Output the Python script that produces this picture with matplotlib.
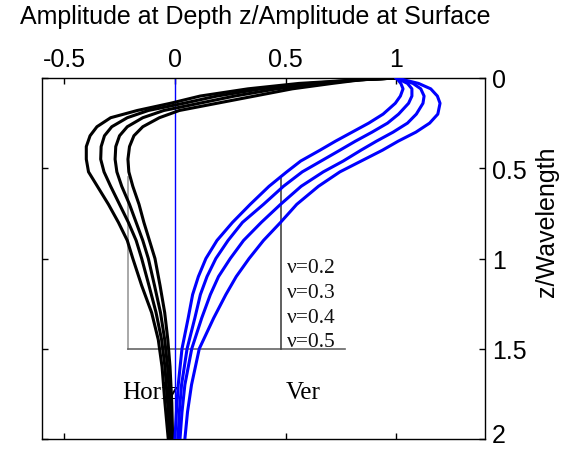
import matplotlib
matplotlib.use('Agg')
import matplotlib.pyplot as plt
from matplotlib.transforms import ScaledTranslation

plt.rcParams['font.family'] = 'Liberation Sans'
plt.rcParams['axes.unicode_minus'] = False

# depth grids (z / wavelength)
depth_h = [0, 0.01, 0.03, 0.06, 0.1, 0.14, 0.18, 0.22, 0.27, 0.32, 0.38, 0.45,
           0.52, 0.6, 0.7, 0.8, 0.9, 1.0, 1.15, 1.3, 1.45, 1.6, 1.8, 2.0]
depth_v = [0, 0.03, 0.06, 0.1, 0.14, 0.2, 0.25, 0.3, 0.35, 0.4, 0.46, 0.52,
           0.6, 0.7, 0.8, 0.9, 1.0, 1.1, 1.2, 1.33, 1.5, 1.7, 1.85, 2.0]

# horizontal amplitude ratio, outer curve first
horiz_1 = [1.0, 0.83, 0.56, 0.33, 0.114, -0.02, -0.17, -0.29, -0.352, -0.383, -0.40, -0.40,
           -0.39, -0.35, -0.30, -0.255, -0.215, -0.19, -0.15, -0.105, -0.075, -0.058, -0.045, -0.03]
horiz_2 = [1.0, 0.83, 0.61, 0.39, 0.19, 0.04, -0.12, -0.215, -0.285, -0.318, -0.333, -0.335,
           -0.32, -0.29, -0.25, -0.21, -0.175, -0.15, -0.117, -0.085, -0.06, -0.045, -0.033, -0.022]
horiz_3 = [1.0, 0.835, 0.66, 0.46, 0.27, 0.11, -0.05, -0.145, -0.215, -0.25, -0.267, -0.27,
           -0.262, -0.24, -0.205, -0.175, -0.145, -0.12, -0.092, -0.065, -0.046, -0.033, -0.023, -0.016]
horiz_4 = [1.0, 0.84, 0.71, 0.53, 0.36, 0.19, 0.02, -0.07, -0.145, -0.185, -0.205, -0.212,
           -0.208, -0.19, -0.162, -0.14, -0.115, -0.09, -0.067, -0.046, -0.032, -0.022, -0.014, -0.01]

# vertical amplitude ratio, inner curve first
vert_1 = [1.0, 1.02, 1.03, 1.018, 0.995, 0.94, 0.875, 0.80, 0.725, 0.655, 0.568, 0.505,
          0.425, 0.34, 0.26, 0.19, 0.14, 0.106, 0.08, 0.06, 0.032, 0.015, 0.007, 0.0]
vert_2 = [1.0, 1.05, 1.07, 1.07, 1.055, 1.01, 0.96, 0.89, 0.815, 0.745, 0.66, 0.575,
          0.49, 0.40, 0.305, 0.24, 0.185, 0.145, 0.115, 0.09, 0.055, 0.03, 0.02, 0.014]
vert_3 = [1.0, 1.075, 1.11, 1.125, 1.12, 1.09, 1.05, 0.985, 0.91, 0.84, 0.76, 0.67,
          0.57, 0.477, 0.39, 0.31, 0.25, 0.197, 0.16, 0.121, 0.076, 0.045, 0.032, 0.023]
vert_4 = [1.0, 1.10, 1.155, 1.185, 1.197, 1.187, 1.15, 1.088, 1.008, 0.937, 0.841, 0.745,
          0.648, 0.55, 0.477, 0.40, 0.335, 0.277, 0.23, 0.175, 0.11, 0.075, 0.057, 0.045]

nu_labels = ['ν=0.2', 'ν=0.3', 'ν=0.4', 'ν=0.5']
nu_y = [1.077, 1.215, 1.354, 1.483]

x_ticks = [-0.5, 0, 0.5, 1]
x_ticklabels = ['-0.5', '0', '0.5', '1']
y_ticks = [0, 0.5, 1, 1.5, 2]
y_ticklabels = ['0', '0.5', '1', '1.5', '2']

fig = plt.figure(figsize=(5.61, 4.52), dpi=100)
ax = fig.add_axes([42/561, 1 - 440/452, 443/561, 361/452])

# bracket lines behind the curves
ax.plot([-0.21, -0.21], [0.55, 1.5], color='#999999', lw=1.2, zorder=1)
ax.plot([-0.21, 0.77], [1.5, 1.5], color='#666666', lw=1.2, zorder=1)
ax.plot([0.48, 0.48], [0.55, 1.5], color='#444444', lw=1.2, zorder=1)

ax.text(-0.236, 1.775, 'Horiz', family='Liberation Serif', fontsize=18, va='baseline', zorder=1)
ax.text(0.5, 1.775, 'Ver', family='Liberation Serif', fontsize=18, va='baseline', zorder=1)
for lab, yy in zip(nu_labels, nu_y):
    ax.text(0.505, yy, lab, family='Liberation Serif', fontsize=15.5, color='#111111',
            va='baseline', zorder=1)

ax.axvline(0, color='blue', lw=1.0, zorder=2)

for xs in [horiz_1, horiz_2, horiz_3, horiz_4]:
    ax.plot(xs, depth_h, color='black', lw=2.2, zorder=3)
for xs in [vert_1, vert_2, vert_3, vert_4]:
    ax.plot(xs, depth_v, color='blue', lw=2.2, zorder=3)

ax.set_xlim(-0.6, 1.4)
ax.set_ylim(2, 0)
ax.set_xticks(x_ticks)
ax.set_xticklabels(x_ticklabels)
ax.set_yticks(y_ticks)
ax.set_yticklabels(y_ticklabels)
ax.tick_params(direction='in', top=True, bottom=True, left=True, right=True,
               labeltop=True, labelbottom=False, labelleft=False, labelright=True,
               length=4, width=1, labelsize=18, pad=5)
for s in ax.spines.values():
    s.set_linewidth(1.0)

# nudge the bottom "2" label up so it stays inside the canvas
last = ax.yaxis.get_majorticklabels()[-1]
for t in ax.yaxis.get_major_ticks()[-1:]:
    t.label2.set_transform(t.label2.get_transform() + ScaledTranslation(0, 5/72, fig.dpi_scale_trans))

ax.xaxis.set_label_position('top')
ax.set_xlabel('Amplitude at Depth z/Amplitude at Surface', fontsize=18)
ax.xaxis.set_label_coords(0.481, 1.153)
ax.yaxis.set_label_position('right')
ax.set_ylabel('z/Wavelength', fontsize=18)
ax.yaxis.set_label_coords(1.113, 0.605)

plt.savefig('out.png', dpi=100)
